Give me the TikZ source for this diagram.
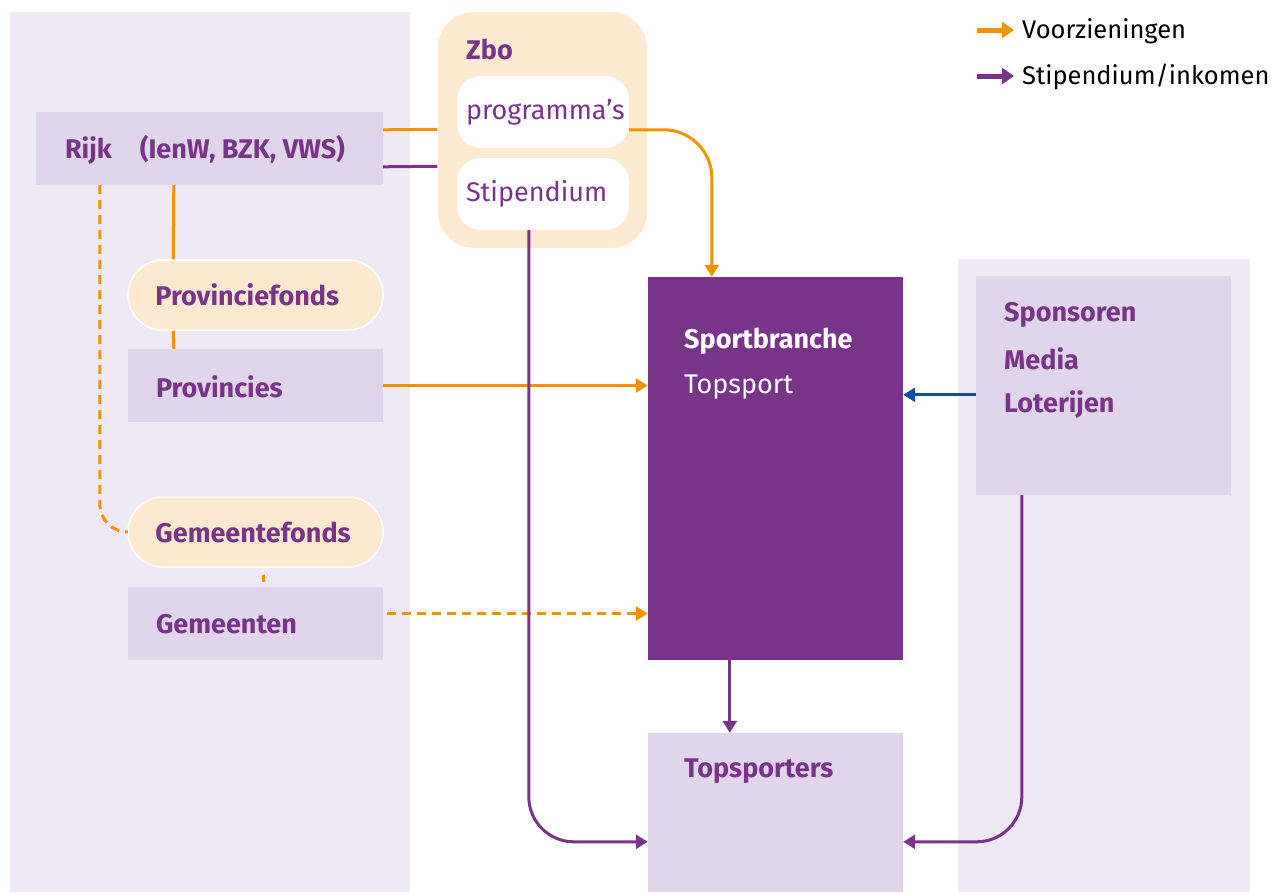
\documentclass[tikz,border=0pt]{standalone}
\usepackage{fontspec}
\setmainfont{Fira Sans}
\usetikzlibrary{arrows.meta,calc,fit}
\definecolor{pur}{HTML}{773488}
\definecolor{lpan}{HTML}{EFE9F5}
\definecolor{lbox}{HTML}{E1D5EC}
\definecolor{peach}{HTML}{FDE8D0}
\definecolor{org}{HTML}{F39200}
\definecolor{blu}{HTML}{0B4EA2}
\begin{document}
\begin{tikzpicture}[x=1pt,y=-1pt,
  panel/.style={fill=lpan,draw=none,inner sep=0pt},
  lb/.style={fill=lbox,draw=none,inner sep=0pt},
  pill/.style={fill=peach,draw=white,line width=1.5pt,inner sep=0pt,rounded corners=35pt},
  wbox/.style={fill=white,draw=none,inner sep=0pt,rounded corners=24pt},
  bl/.style={text=pur,font=\fontsize{27}{31}\bfseries\selectfont,inner sep=0pt,anchor=west},
  rl/.style={text=pur,font=\fontsize{27}{31}\selectfont,inner sep=0pt,anchor=west},
  tip/.style={-{Triangle[length=12pt,width=14pt]}},
  ol/.style={draw=org,line width=3pt},
  pl/.style={draw=pur,line width=3pt},
  dsh/.style={dash pattern=on 9pt off 6pt}
]
\useasboundingbox (0,0) rectangle (1279,892);
% panels
\node[panel,fit={(10,12)(410,892)}] (lpanel) {};
\node[panel,fit={(958,259)(1250,892)}] (rpanel) {};
% Zbo
\node[pill,draw=none,rounded corners=36pt,fit={(438,12)(647,248)}] (zbo) {};
\node[bl] (zbot) at (466,49) {Zbo};
\node[wbox,fit={(457,76)(629,148)}] (prog) {};
\node[rl] (progt) at ($(prog.west)+(9,0)$) {programma’s};
\node[wbox,fit={(457,158)(629,230)}] (stip) {};
\node[rl] (stipt) at ($(stip.west)+(9,0)$) {Stipendium};
% Rijk
\node[lb,fit={(36,112)(383,185)}] (rijk) {};
\node[bl] (rijkt) at ($(rijk.west)+(29,1)$) {Rijk\hspace{28pt}(IenW, BZK, VWS)};
% Provincie
\node[pill,fit={(128,260)(383,330)}] (provf) {};
\node[bl] (provft) at ($(provf.west)+(28,0)$) {Provinciefonds};
\node[lb,fit={(128,349)(383,422)}] (prov) {};
\node[bl] (provt) at ($(prov.west)+(28,1)$) {Provincies};
% Gemeente
\node[pill,fit={(128,497)(383,567)}] (gemf) {};
\node[bl] (gemft) at ($(gemf.west)+(28,0)$) {Gemeentefonds};
\node[lb,fit={(128,587)(383,660)}] (gem) {};
\node[bl] (gemt) at ($(gem.west)+(28,1)$) {Gemeenten};
% Sportbranche
\node[fill=pur,inner sep=0pt,fit={(648,277)(903,660)}] (sport) {};
\node[bl,text=white] (sportt1) at (684,341) {Sportbranche};
\node[rl,text=white] (sportt2) at (684,387) {Topsport};
% Topsporters
\node[lb,fit={(648,733)(903,892)}] (tops) {};
\node[bl] (topst) at (684,771) {Topsporters};
% Sponsoren
\node[lb,fit={(976,276)(1231,495)}] (spon) {};
\node[bl] (spon1) at (1004,315) {Sponsoren};
\node[bl] (spon2) at (1004,359) {Media};
\node[bl] (spon3) at (1004,405) {Loterijen};
% connectors
\draw[ol] ($(rijk.north east)+(0,18)$) -- ($(zbo.north west)+(0,118)$);
\draw[pl] ($(rijk.north east)+(0,55)$) -- ($(zbo.north west)+(0,155)$);
\draw[ol,tip,rounded corners=48pt] ($(prog.north east)+(0,54)$) -| ($(sport.north west)+(64,0)$);
\draw[ol] ($(rijk.south west)+(138,0)$) -- ($(provf.north west)+(46,0)$);
\draw[ol] ($(provf.south west)+(46,0)$) -- ($(prov.north west)+(46,0)$);
\draw[ol,tip] (prov.east) -- (prov.east -| sport.west);
\draw[ol,dsh,rounded corners=28pt] ($(rijk.south west)+(64,0)$) |- (gemf.west);
\draw[ol] ($(gemf.south west)+(136,7)$) -- ($(gem.north west)+(136,-5)$);
\coordinate (gemout) at ($(gem.east)+(4,-10)$);
\draw[ol,dsh,tip] (gemout) -- (gemout -| sport.west);
\draw[pl,tip,rounded corners=45pt] ($(stip.south west)+(72,0)$) |- ($(tops.north west)+(0,109)$);
\draw[pl,tip] ($(sport.south west)+(82,0)$) -- ($(tops.north west)+(82,0)$);
\draw[draw=blu,line width=3pt,tip] ($(spon.north west)+(0,119)$) -- ($(sport.north east)+(0,118)$);
\draw[pl,tip,rounded corners=45pt] ($(spon.south west)+(46,0)$) |- ($(tops.north east)+(0,109)$);
% legend
\coordinate (l1) at (977,30);
\coordinate (l2) at (977,76);
\node[inner sep=0pt,anchor=west,font=\fontsize{25.5}{30}\selectfont] (lt1) at (1022,31) {Voorzieningen};
\node[inner sep=0pt,anchor=west,font=\fontsize{25.5}{30}\selectfont] (lt2) at (1022,77) {Stipendium/inkomen};
\draw[draw=org,line width=5pt,-{Triangle[length=12pt,width=16pt]}] (l1) -- ($(lt1.west)+(-8,-1)$);
\draw[draw=pur,line width=5pt,-{Triangle[length=12pt,width=16pt]}] (l2) -- ($(lt2.west)+(-8,-1)$);
\end{tikzpicture}
\end{document}
